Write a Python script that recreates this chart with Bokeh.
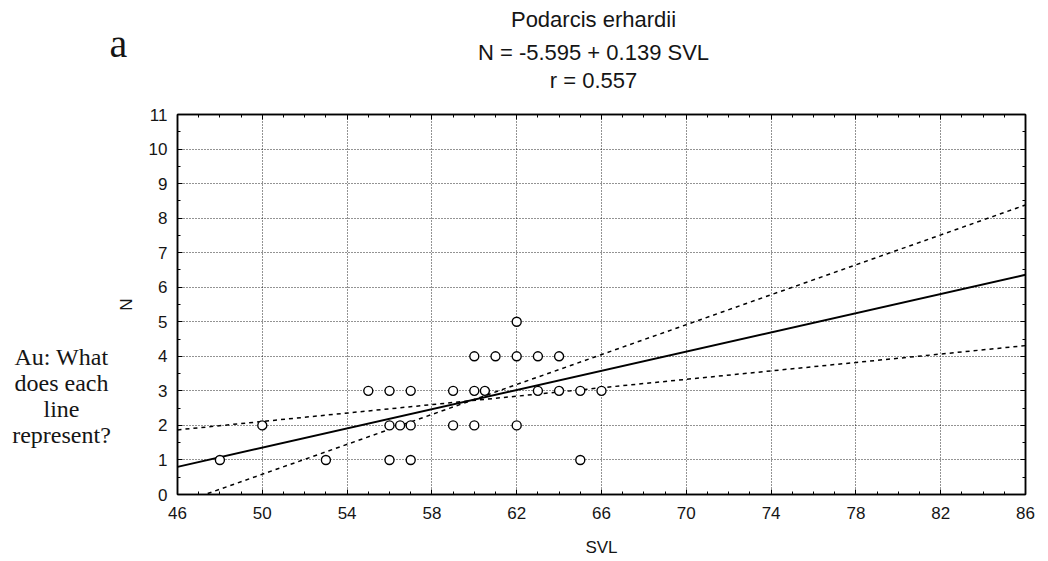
from bokeh.plotting import figure
from bokeh.models import (Range1d, FixedTicker, LinearAxis, ColumnDataSource,
                          CustomJSTickFormatter)
from bokeh.layouts import column, row
from bokeh.core.properties import value
from bokeh.embed import file_html
from bokeh.resources import INLINE

# ---- data ----
svl = [48, 53, 56, 57, 65,
       50, 56, 56.5, 57, 59, 60, 62,
       55, 56, 57, 59, 60, 60.5, 63, 64, 65, 66,
       60, 61, 62, 63, 64,
       62]
n = [1, 1, 1, 1, 1,
     2, 2, 2, 2, 2, 2, 2,
     3, 3, 3, 3, 3, 3, 3, 3, 3, 3,
     4, 4, 4, 4, 4,
     5]
line_x = [46, 86]
fit_y = [0.80, 6.36]
steep_y = [-0.28, 8.38]
shallow_y = [1.87, 4.31]
x_ticks = [46, 50, 54, 58, 62, 66, 70, 74, 78, 82, 86]
y_ticks = [0, 1, 2, 3, 4, 5, 6, 7, 8, 9, 10, 11]
title_lines = ["Podarcis erhardii", "N = -5.595 + 0.139 SVL", "r = 0.557"]
panel_letter = "a"
note_lines = ["Au: What", "does each", "line", "represent?"]

SANS = "Liberation Sans"
SERIF = "Liberation Serif"
INK = "#151515"

W, H = 1048, 561
TOP_H = 100
LEFT_W = 113
FRAME_LEFT, FRAME_RIGHT = 177, 1025
FRAME_TOP, FRAME_BOTTOM = 114, 494


def blank_fig(width, height, xr, yr):
    f = figure(width=width, height=height, output_backend="svg", toolbar_location=None,
               x_range=xr, y_range=yr, x_axis_type=None, y_axis_type=None,
               min_border=0, min_border_left=0, min_border_right=0,
               min_border_top=0, min_border_bottom=0)
    f.outline_line_color = None
    f.grid.visible = False
    f.background_fill_color = "white"
    f.border_fill_color = "white"
    return f


# ---- top strip: title lines and panel letter (page-like coordinates) ----
top = blank_fig(W, TOP_H, Range1d(0, W), Range1d(TOP_H, 0))
top.text(x=[593, 593, 593], y=[19, 52, 80], text=title_lines,
         text_font=value(SANS), text_font_size="22px", text_align="center",
         text_baseline="middle", text_color=INK)
top.text(x=[118], y=[43], text=[panel_letter], text_font=value(SERIF),
         text_font_size="40px", text_align="center", text_baseline="middle",
         text_color=INK)

# ---- left strip: editor's note (its frame is aligned with the chart frame) ----
left = blank_fig(LEFT_W, H - TOP_H, Range1d(0, LEFT_W), Range1d(FRAME_BOTTOM, FRAME_TOP))
left.text(x=[61] * 4, y=[356, 382, 408, 434], text=note_lines,
          text_font=value(SERIF), text_font_size="24px", text_align="center",
          text_baseline="middle", text_color=INK)

# ---- main chart ----
p = figure(width=W - LEFT_W, height=H - TOP_H, output_backend="svg",
           toolbar_location=None,
           x_range=Range1d(46, 86), y_range=Range1d(0, 11),
           min_border_left=FRAME_LEFT - LEFT_W, min_border_right=W - FRAME_RIGHT,
           min_border_top=FRAME_TOP - TOP_H, min_border_bottom=H - FRAME_BOTTOM)
p.outline_line_color = "black"
p.outline_line_width = 1.5
p.background_fill_color = "white"
p.border_fill_color = "white"

for ax in (p.xaxis[0], p.yaxis[0]):
    ax.axis_line_color = "black"
    ax.axis_line_width = 1.5
    ax.major_tick_in = 5
    ax.major_tick_out = 0
    ax.minor_tick_in = 3
    ax.minor_tick_out = 0
    ax.major_tick_line_color = "black"
    ax.minor_tick_line_color = "black"
    ax.major_label_text_font = SANS
    ax.major_label_text_font_size = "17px"
    ax.major_label_text_color = INK
    ax.axis_label_text_font = SANS
    ax.axis_label_text_font_size = "17px"
    ax.axis_label_text_font_style = "normal"
    ax.axis_label_text_color = INK

minor_x = list(range(46, 87))
minor_y = [i * 0.5 for i in range(23)]
p.xaxis[0].ticker = FixedTicker(ticks=x_ticks, minor_ticks=minor_x)
p.yaxis[0].ticker = FixedTicker(ticks=y_ticks, minor_ticks=minor_y)
p.xaxis[0].axis_label = "SVL"
p.yaxis[0].axis_label = "N"
p.xaxis[0].major_label_standoff = 12
p.xaxis[0].axis_label_standoff = 16
p.yaxis[0].major_label_standoff = 10
p.yaxis[0].axis_label_standoff = 10

blank = CustomJSTickFormatter(code="return ''")
for side, ticks, minor in (("right", y_ticks, minor_y), ("above", x_ticks, minor_x)):
    ax = LinearAxis(ticker=FixedTicker(ticks=ticks, minor_ticks=minor), formatter=blank)
    ax.axis_line_color = "black"
    ax.axis_line_width = 1.5
    ax.major_tick_in = 5
    ax.major_tick_out = 0
    ax.minor_tick_in = 3
    ax.minor_tick_out = 0
    ax.major_label_standoff = 0
    p.add_layout(ax, side)

for g in (p.xgrid[0], p.ygrid[0]):
    g.grid_line_color = "black"
    g.grid_line_dash = "1 2"
    g.grid_line_width = 1
    g.grid_line_alpha = 0.85
p.xgrid[0].ticker = FixedTicker(ticks=x_ticks)
p.ygrid[0].ticker = FixedTicker(ticks=y_ticks)

p.line(line_x, fit_y, line_color="black", line_width=2)
p.line(line_x, steep_y, line_color="black", line_width=1.5, line_dash="4 4")
p.line(line_x, shallow_y, line_color="black", line_width=1.5, line_dash="4 4")

src = ColumnDataSource(dict(x=svl, y=n))
p.scatter("x", "y", source=src, size=9, marker="circle", fill_color="white",
          line_color="black", line_width=1.4)

layout = column(top, row(left, p, spacing=0), spacing=0)
open("out.html", "w").write(file_html(layout, INLINE))
